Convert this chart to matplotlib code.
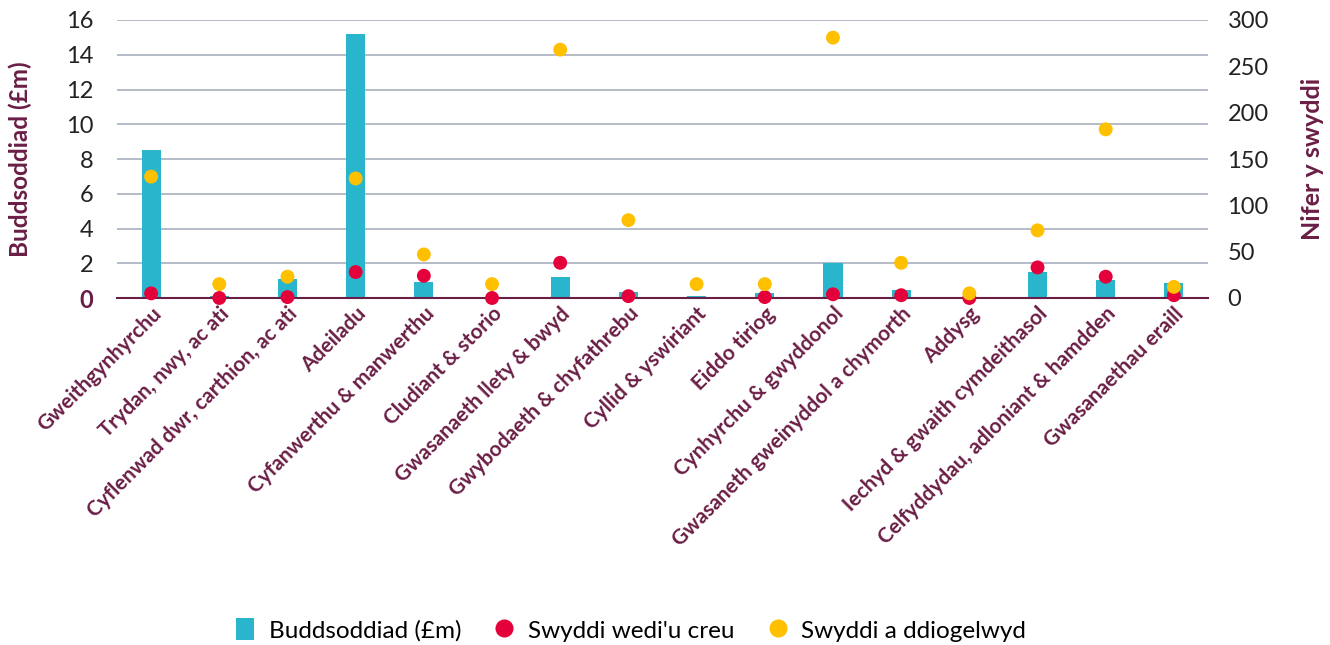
import matplotlib
matplotlib.use("Agg")
import matplotlib.pyplot as plt
import numpy as np
from matplotlib.lines import Line2D
from matplotlib.patches import Patch

categories = [
    "Gweithgynhyrchu", "Trydan, nwy, ac ati", "Cyflenwad dwr, carthion, ac ati",
    "Adeiladu", "Cyfanwerthu & manwerthu", "Cludiant & storio",
    "Gwasanaeth llety & bwyd", "Gwybodaeth & chyfathrebu", "Cyllid & yswiriant",
    "Eiddo tiriog", "Cynhyrchu & gwyddonol", "Gwasaneth gweinyddol a chymorth",
    "Addysg", "Iechyd & gwaith cymdeithasol", "Celfyddydau, adloniant & hamdden",
    "Gwasanaethau eraill",
]
investment = [8.5, 0.1, 1.1, 15.2, 0.9, 0.0, 1.2, 0.35, 0.1, 0.3, 2.0, 0.45, 0.0, 1.5, 1.05, 0.86]
jobs_created = [5, 0, 1, 28, 24, 0, 38, 2, np.nan, 1, 4, 3, 0, 33, 23, 3]
jobs_safeguarded = [131, 15, 23, 129, 47, 15, 268, 84, 15, 15, 281, 38, 5, 73, 182, 12]

left_ticks = [0, 2, 4, 6, 8, 10, 12, 14, 16]
right_ticks = [0, 50, 100, 150, 200, 250, 300]

MAROON = "#6a1e45"
CYAN = "#29b6cd"
RED = "#e4003b"
YELLOW = "#ffc000"
GRID = "#a9b0bd"

plt.rcParams['font.family'] = ['Lato', 'DejaVu Sans']

fig = plt.figure(figsize=(13.3, 6.45), dpi=100)
ax = fig.add_axes([117/1330, 1-298/645, (1208-117)/1330, 278/645])
x = np.arange(len(categories))

ax.bar(x, investment, width=0.28, color=CYAN, zorder=2)
ax.set_ylim(0, 16)
ax.set_xlim(-0.5, len(categories) - 0.5)
ax.set_yticks(left_ticks)
ax.set_yticklabels([str(t) for t in left_ticks])
ax.yaxis.grid(True, color=GRID, linewidth=1.2, zorder=0)
ax.set_axisbelow(True)
for s in ["top", "right", "left"]:
    ax.spines[s].set_visible(False)
ax.spines["bottom"].set_color(MAROON)
ax.spines["bottom"].set_linewidth(1.5)
ax.spines["bottom"].set_zorder(3)
ax.tick_params(axis="y", length=0, labelsize=17, labelcolor="#222222", pad=17)
ax.tick_params(axis="x", length=0, pad=4)
ax.set_xticks(x)
ax.set_xticklabels(categories, rotation=45, ha="right", rotation_mode="anchor",
                   fontsize=15, color=MAROON, fontweight="bold")
zl = ax.get_yticklabels()[0]
zl.set_color(MAROON)
zl.set_fontweight("bold")
ax.set_ylabel("Buddsoddiad (£m)", fontsize=17.5, color=MAROON, fontweight="bold", labelpad=24)

ax2 = ax.twinx()
ax2.set_ylim(0, 300)
ax2.set_yticks(right_ticks)
ax2.set_yticklabels([str(t) for t in right_ticks])
for s in ["top", "right", "left", "bottom"]:
    ax2.spines[s].set_visible(False)
ax2.tick_params(axis="y", length=0, labelsize=17, labelcolor="#222222", pad=14)
ax2.scatter(x, jobs_created, s=100, color=RED, zorder=4, clip_on=False, edgecolors="none")
ax2.scatter(x, jobs_safeguarded, s=100, color=YELLOW, zorder=5, clip_on=False, edgecolors="none")
ax2.set_ylabel("Nifer y swyddi", fontsize=18, color=MAROON, fontweight="bold", labelpad=23)

handles = [
    Patch(facecolor=CYAN, edgecolor="none"),
    Line2D([], [], marker="o", linestyle="none", markersize=13, markerfacecolor=RED, markeredgecolor="none"),
    Line2D([], [], marker="o", linestyle="none", markersize=13, markerfacecolor=YELLOW, markeredgecolor="none"),
]
labels = ["Buddsoddiad (£m)", "Swyddi wedi'u creu", "Swyddi a ddiogelwyd"]
fig.legend(handles, labels, loc="center", bbox_to_anchor=(631/1330, 15/645), ncol=3,
           frameon=False, fontsize=17.5, handlelength=0.75, handleheight=1.0,
           handletextpad=0.6, columnspacing=1.4)

fig.savefig("out.png", dpi=100)
